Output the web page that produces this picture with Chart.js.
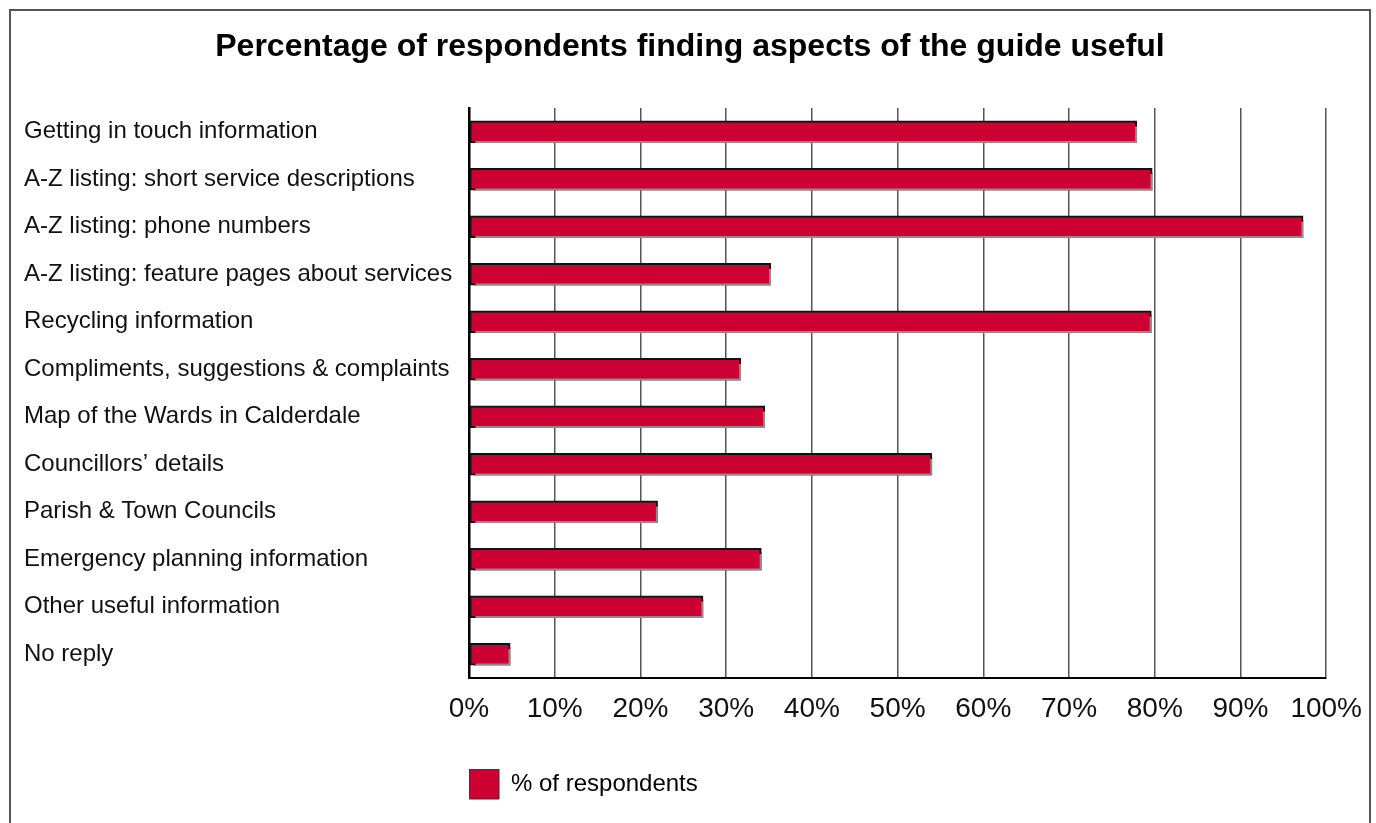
<!DOCTYPE html>
<html>
<head>
<meta charset="utf-8">
<script src="https://cdn.jsdelivr.net/npm/chart.js@4/dist/chart.umd.min.js"></script>
<style>
  html, body { margin: 0; padding: 0; background: #fff; overflow: hidden; }
  #frame { position: absolute; left: 9px; top: 9px; width: 1358px; height: 900px; border: 2px solid #555; }
  #wrap { position: absolute; left: 0; top: 0; width: 1376px; height: 823px; }
</style>
</head>
<body>
<div id="frame"></div>
<div id="wrap"><canvas id="chart" width="1376" height="823"></canvas></div>
<script>
const categories = [
  'Getting in touch information',
  'A-Z listing: short service descriptions',
  'A-Z listing: phone numbers',
  'A-Z listing: feature pages about services',
  'Recycling information',
  'Compliments, suggestions & complaints',
  'Map of the Wards in Calderdale',
  'Councillors\u2019 details',
  'Parish & Town Councils',
  'Emergency planning information',
  'Other useful information',
  'No reply'
];
const respondents = [77.9, 79.7, 97.3, 35.2, 79.6, 31.7, 34.5, 54.0, 22.0, 34.1, 27.3, 4.8];
const xTicks = [0, 10, 20, 30, 40, 50, 60, 70, 80, 90, 100];

const FONT = "'Liberation Sans', Arial, Helvetica, sans-serif";
const RED = '#cc0033';

// grey drop shadow behind the bars
const barShadow = {
  id: 'barShadow',
  beforeDatasetsDraw(chart) {
    const c = chart.ctx;
    c.save();
    c.shadowColor = '#8c8c8c';
    c.shadowOffsetX = 4;
    c.shadowOffsetY = 4;
    c.shadowBlur = 0;
  },
  afterDatasetsDraw(chart) {
    chart.ctx.restore();
  }
};

// centre the title on the whole frame, not on the padded layout
const titleCentre = {
  id: 'titleCentre',
  afterLayout(chart) {
    const t = chart.titleBlock;
    if (t) { t.left = 0; t.right = chart.width + 4; }
  }
};

const ctx = document.getElementById('chart').getContext('2d');

new Chart(ctx, {
  type: 'bar',
  data: {
    labels: categories,
    datasets: [{
      label: '% of respondents',
      data: respondents,
      backgroundColor: RED,
      borderColor: '#111',
      borderWidth: 2,
      borderSkipped: false,
      barThickness: 22
    }]
  },
  options: {
    indexAxis: 'y',
    responsive: false,
    animation: false,
    layout: { padding: { left: 24, right: 47, top: 0, bottom: 14 } },
    plugins: {
      title: {
        display: true,
        text: 'Percentage of respondents finding aspects of the guide useful',
        color: '#000',
        font: { family: FONT, size: 32, weight: 'bold' },
        padding: { top: 28, bottom: 41.6 }
      },
      legend: {
        position: 'bottom',
        align: 'start',
        fullSize: false,
        labels: {
          boxWidth: 30,
          boxHeight: 30,
          padding: 0,
          color: '#111',
          font: { family: FONT, size: 24 },
          generateLabels: (chart) => [{
            text: chart.data.datasets[0].label,
            fillStyle: RED,
            strokeStyle: '#333',
            lineWidth: 1,
            datasetIndex: 0
          }]
        }
      },
      tooltip: { enabled: false }
    },
    scales: {
      x: {
        min: 0,
        max: 100,
        afterBuildTicks: (scale) => { scale.ticks = xTicks.map(v => ({ value: v })); },
        afterFit: (scale) => { scale.height = 91; },
        grid: { color: '#555', lineWidth: 1.5, drawTicks: false },
        border: { color: '#000', width: 2 },
        ticks: {
          padding: 14,
          color: '#111',
          maxRotation: 0,
          autoSkip: false,
          font: { family: FONT, size: 28 },
          callback: (v) => v + '%'
        }
      },
      y: {
        afterFit: (scale) => { scale.width = 445; },
        grid: { display: false },
        border: { color: '#000', width: 2.5 },
        ticks: {
          crossAlign: 'far',
          color: '#111',
          autoSkip: false,
          font: { family: FONT, size: 24 }
        }
      }
    }
  },
  plugins: [barShadow, titleCentre]
});
</script>
</body>
</html>
